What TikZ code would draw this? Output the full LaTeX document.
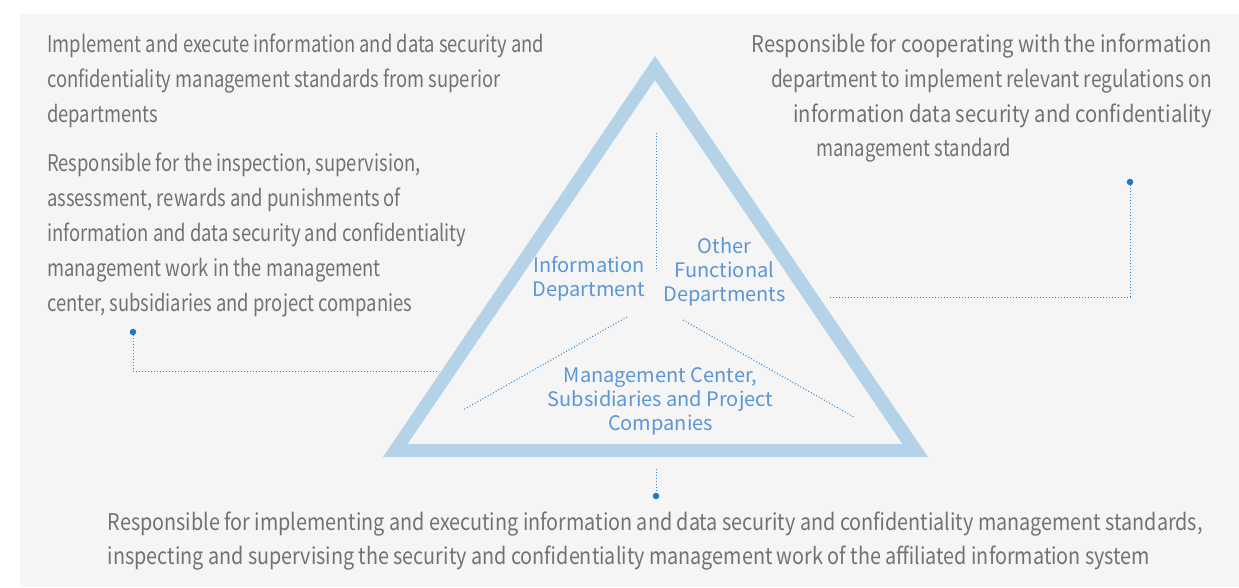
\documentclass[tikz,border=0pt]{standalone}
\usepackage{fontspec}
\setmainfont{Noto Sans CJK SC}
\newfontfamily\gfontA[FakeStretch=0.80]{Noto Sans CJK SC}
\newfontfamily\gfontB[FakeStretch=0.86]{Noto Sans CJK SC}
\newfontfamily\rfont[FakeStretch=0.83]{Noto Sans CJK SC}
\newfontfamily\rfontW[FakeStretch=0.876]{Noto Sans CJK SC}
\newfontfamily\bfont{Noto Sans CJK SC}
\definecolor{panel}{HTML}{F5F5F5}
\definecolor{tri}{HTML}{B4D3E8}
\definecolor{bluetxt}{HTML}{5A96D8}
\definecolor{dotline}{HTML}{2D86D0}
\definecolor{dotc}{HTML}{1A78C8}
\definecolor{graytxt}{HTML}{727272}
\tikzset{
  graypara/.style={anchor=base west, align=left, inner sep=0pt, text=graytxt, font=\gfontA\fontsize{23}{34.8}\selectfont},
  bluelabel/.style={anchor=base, align=center, inner sep=0pt, text=bluetxt, font=\bfont\fontsize{20}{24}\selectfont},
  conn/.style={draw=dotline, line width=1pt, dotted},
  pin/.style={circle, fill=dotc, minimum size=6.5pt, inner sep=0pt}
}
\begin{document}
\begin{tikzpicture}[x=1pt,y=-1pt]
\useasboundingbox (0,0) rectangle (1239,587);
\fill[white] (0,0) rectangle (1239,587);
\fill[panel] (20,14) rectangle (1239,587);
% triangle
\fill[tri, even odd rule] (383,457) -- (928,457) -- (655,56) -- cycle
  (407.5,444) -- (902.5,444) -- (655,80) -- cycle;
% gray paragraphs (anchor = baseline of last line)
\node[graypara, font=\gfontA\fontsize{23}{35}\selectfont] (tl1) at (47,122.7) {Implement and execute information and data security and\\confidentiality management standards from superior\\departments};
\node[graypara] (tl2) at (47,311) {Responsible for the inspection, supervision,\\assessment, rewards and punishments of\\information and data security and confidentiality\\management work in the management\\center, subsidiaries and project companies};
\node[graypara, anchor=base east, align=right, font=\rfont\fontsize{23}{34.7}\selectfont] (tr1) at (1212,122) {\rfontW Responsible for cooperating with the information\\\rfont department to implement relevant regulations on\\\rfontW information data security and confidentiality};
\node[graypara] (tr2) at (816,156.7) {management standard};
\node[graypara, font=\gfontB\fontsize{23}{34}\selectfont] (bt) at (107.5,564) {Responsible for implementing and executing information and data security and confidentiality management standards,\\inspecting and supervising the security and confidentiality management work of the affiliated information system};
% blue labels (anchor = baseline of last line)
\node[bluelabel] (info) at (589,296.7) {Information\\Department};
\node[bluelabel] (other) at (724.5,301.7) {Other\\Functional\\Departments};
\node[bluelabel] (mgmt) at (660.5,430) {Management Center,\\Subsidiaries and Project\\Companies};
% inner dotted lines
\coordinate (v1) at (656,133);
\coordinate (v2) at (656,271);
\coordinate (l1) at (627,317);
\coordinate (l2) at (463,410);
\coordinate (r1) at (683,320);
\coordinate (r2) at (854,417);
\draw[conn] (v1) -- (v2);
\draw[conn] (l1) -- (l2);
\draw[conn] (r1) -- (r2);
% connectors
\node[pin] (pl) at (133,332) {};
\coordinate (cl) at (133,371);
\coordinate (el) at (438,371);
\draw[conn] (pl) -- (cl) -- (el);
\node[pin] (pr) at (1130,182) {};
\coordinate (cr) at (1130,297);
\coordinate (er) at (830,297);
\draw[conn] (pr) -- (cr) -- (er);
\node[pin] (pb) at (656,496) {};
\coordinate (eb) at (656,469);
\draw[conn] (eb) -- (pb);
\end{tikzpicture}
\end{document}
